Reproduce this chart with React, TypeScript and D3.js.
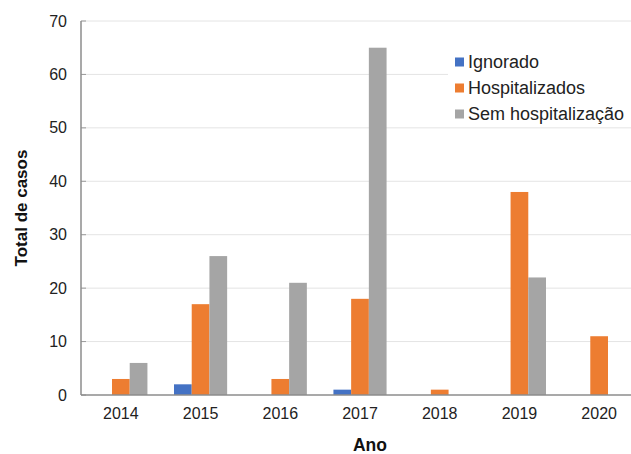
import React from "react";
import * as d3 from "d3";

const years = ["2014", "2015", "2016", "2017", "2018", "2019", "2020"];
const seriesNames = ["Ignorado", "Hospitalizados", "Sem hospitalização"];
const ignorado = [0, 2, 0, 1, 0, 0, 0];
const hospitalizados = [3, 17, 3, 18, 1, 38, 11];
const semHospitalizacao = [6, 26, 21, 65, 0, 22, 0];
const yTicks = [0, 10, 20, 30, 40, 50, 60, 70];
const colors = ["#4472C4", "#ED7D31", "#A5A5A5"];

const W = 631;
const H = 454;
const left = 81;
const right = 639;
const top = 21;
const bottom = 395;
const font = "'Liberation Sans', Arial, Helvetica, sans-serif";

export default function App() {
  const seriesValues = [ignorado, hospitalizados, semHospitalizacao];
  const x0 = d3.scaleBand<string>().domain(years).range([left, right]).padding(0);
  const x1 = d3
    .scaleBand<string>()
    .domain(seriesNames)
    .range([0, x0.bandwidth()])
    .paddingInner(0)
    .paddingOuter(0.75);
  const y = d3.scaleLinear().domain([0, 70]).range([bottom, top]);

  return (
    <svg
      width={W}
      height={H}
      style={{ position: "absolute", left: 0, top: 0, background: "#fff" }}
      fontFamily={font}
    >
      <rect x={0} y={0} width={W} height={H} fill="#fff" />
      {yTicks.map((t) => (
        <g key={t}>
          {t > 0 && (
            <line x1={left} x2={W} y1={y(t)} y2={y(t)} stroke="#e4e4e4" strokeWidth={1} />
          )}
          <line x1={left} x2={left + 5} y1={y(t)} y2={y(t)} stroke="#9a9a9a" strokeWidth={1} />
          <text x={67} y={y(t)} dy="0.35em" textAnchor="end" fontSize={16} fill="#222">
            {t}
          </text>
        </g>
      ))}
      {years.map((yr, i) =>
        seriesNames.map((s, j) => {
          const v = seriesValues[j][i];
          if (!v) return null;
          return (
            <rect
              key={yr + s}
              x={(x0(yr) as number) + (x1(s) as number)}
              y={y(v)}
              width={x1.bandwidth()}
              height={y(0) - y(v)}
              fill={colors[j]}
            />
          );
        })
      )}
      <line x1={left} x2={left} y1={top} y2={bottom} stroke="#8c8c8c" strokeWidth={1.5} />
      <line x1={left} x2={W} y1={bottom} y2={bottom} stroke="#8c8c8c" strokeWidth={1.5} />
      {years.map((yr) => (
        <text
          key={yr}
          x={(x0(yr) as number) + x0.bandwidth() / 2}
          y={413}
          dy="0.35em"
          textAnchor="middle"
          fontSize={16}
          fill="#222"
        >
          {yr}
        </text>
      ))}
      <text x={370} y={451} textAnchor="middle" fontSize={17.5} fontWeight="bold" fill="#111">
        Ano
      </text>
      <text
        transform={`translate(21,${(top + bottom) / 2}) rotate(-90)`}
        dy="0.35em"
        textAnchor="middle"
        fontSize={17}
        fontWeight="bold"
        fill="#111"
      >
        Total de casos
      </text>
      <rect x={448} y={50} width={184} height={76} fill="#fff" />
      {seriesNames.map((s, j) => (
        <g key={s} transform={`translate(455,${62 + j * 26})`}>
          <rect x={0} y={-4.5} width={9} height={9} fill={colors[j]} />
          <text x={13} y={0} dy="0.35em" fontSize={18} fill="#222">
            {s}
          </text>
        </g>
      ))}
    </svg>
  );
}
